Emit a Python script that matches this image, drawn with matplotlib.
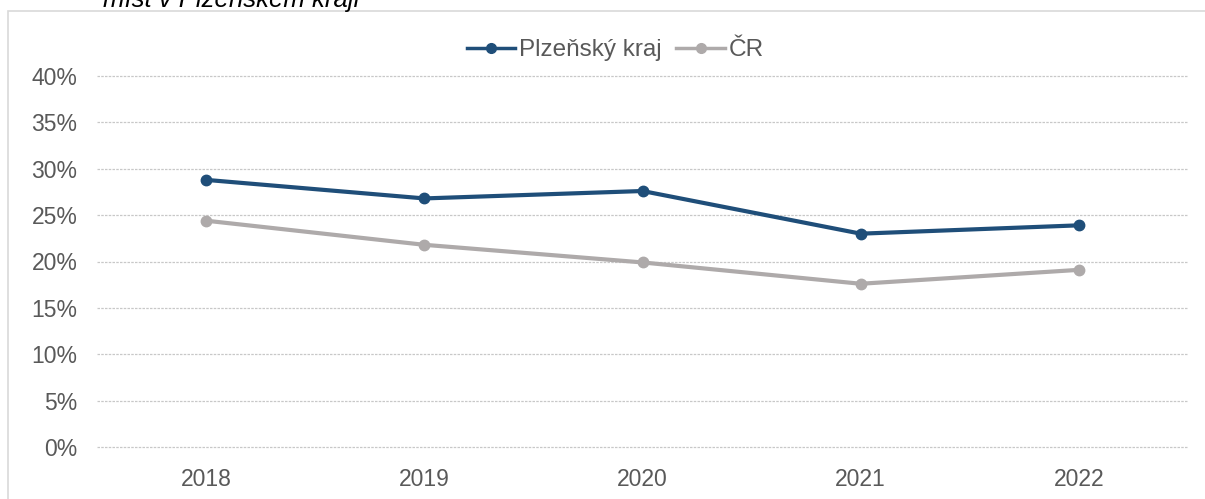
import matplotlib.pyplot as plt
import matplotlib.patches as patches
from matplotlib.ticker import FuncFormatter

years = ["2018", "2019", "2020", "2021", "2022"]
plzen = [28.8, 26.8, 27.6, 23.0, 23.9]
cr = [24.4, 21.8, 19.9, 17.6, 19.1]

plt.rcParams['font.family'] = ['Liberation Sans', 'DejaVu Sans']

fig = plt.figure(figsize=(12.05, 4.99), dpi=100)
ax = fig.add_axes([97 / 1205, 1 - 447 / 499, (1188 - 97) / 1205, (447 - 76) / 499])

# outer chart frame (cut at the right and bottom)
fig.patches.append(patches.Rectangle((8 / 1205, -0.1), 1.2, 1 - 11 / 499 + 0.1,
                                     transform=fig.transFigure, fill=False,
                                     edgecolor="#d9d9d9", lw=1.2))

fig.text(103 / 1205, 1 - 7 / 499, "míst v Plzeňském kraji", style="italic",
         fontsize=18.5, va="baseline", ha="left", color="black")

x = range(len(years))
ax.plot(x, plzen, color="#1f4e79", lw=3, marker="o", ms=7.5, label="Plzeňský kraj")
ax.plot(x, cr, color="#aeaaaa", lw=3, marker="o", ms=7.5, label="ČR")

ax.set_xlim(-0.5, len(years) - 0.5)
ax.set_ylim(0, 40)
ax.set_yticks(range(0, 41, 5))
ax.yaxis.set_major_formatter(FuncFormatter(lambda v, p: f"{v:.0f}%"))
ax.set_xticks(list(x))
ax.set_xticklabels(years)
ax.grid(axis="y", color="#c8c8c8", lw=0.9, ls=(0, (2, 1)))
for gl in ax.get_ygridlines():
    gl.set_clip_on(False)
ax.set_axisbelow(True)
for s in ax.spines.values():
    s.set_visible(False)
ax.tick_params(length=0, labelsize=16.5, colors="#595959")
ax.tick_params(axis="y", pad=14)
ax.tick_params(axis="x", pad=15)

leg = ax.legend(loc="lower center", bbox_to_anchor=(0.475, 1.0), ncol=2, frameon=False,
                fontsize=17.5, labelcolor="#595959", handlelength=2.0,
                handletextpad=0.15, columnspacing=0.6, borderaxespad=0.2)
for h in leg.legend_handles:
    h.set_linewidth(2.5)
    h.set_markersize(7)

fig.savefig("out.png", dpi=100)
